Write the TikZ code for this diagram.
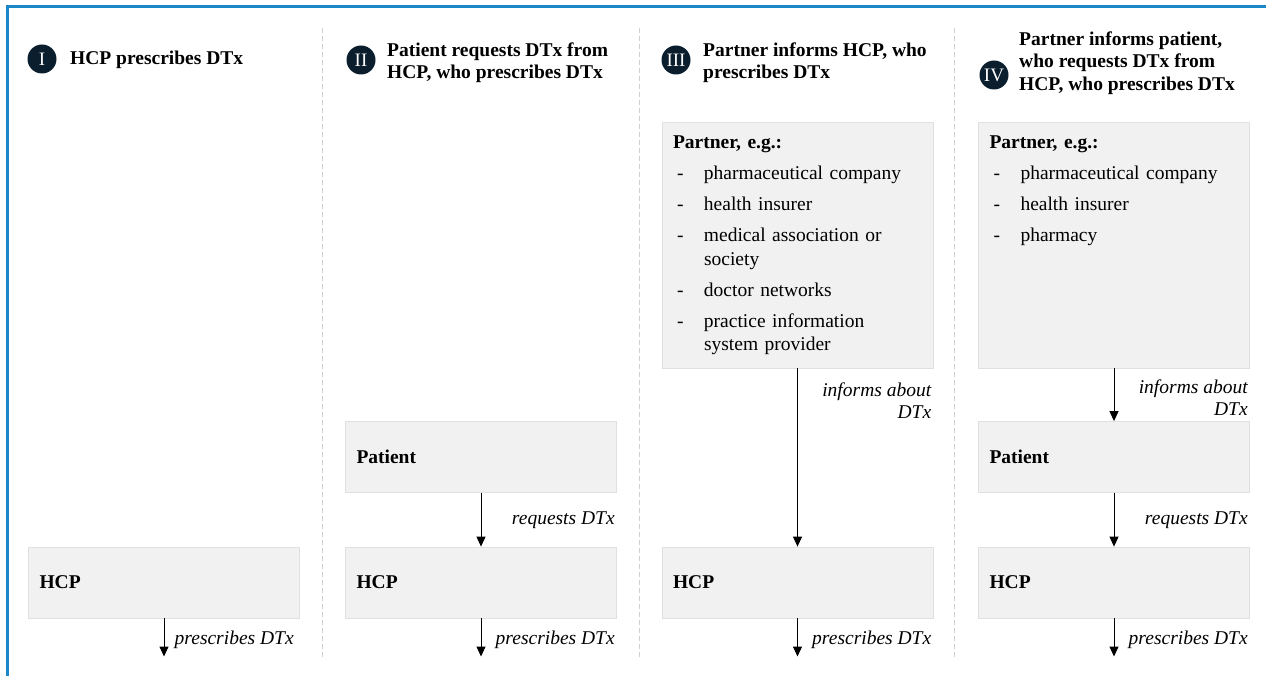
\documentclass[tikz,border=0pt]{standalone}
\usepackage{fontspec}
\setmainfont{Liberation Serif}
\usetikzlibrary{arrows.meta}
\definecolor{framec}{HTML}{1B87C9}
\definecolor{boxfill}{HTML}{F1F1F1}
\definecolor{boxline}{HTML}{E0E0E0}
\definecolor{numc}{HTML}{0B1E2D}
\definecolor{sepc}{HTML}{CFCFCF}
\frenchspacing
\newcommand\dashitem[1]{\par\vspace{7.5pt}\hangindent=31pt\hangafter=1\noindent\makebox[31pt][l]{\hspace{4pt}-}#1}
\newcommand\partnerlist[1]{\begin{minipage}[t][218pt][t]{240pt}\raggedright\setlength\parskip{0pt}\noindent\textbf{Partner, e.g.:}#1\end{minipage}}
\begin{document}
\begin{tikzpicture}[x=1pt,y=-1pt,
  font=\fontsize{19.5}{23.5}\selectfont,
  box/.style={draw=boxline,fill=boxfill,line width=0.8pt,text width=249pt,inner xsep=11pt,inner ysep=11pt,minimum height=71pt,align=left},
  partner/.style={box,inner ysep=14pt,minimum height=246pt},
  num/.style={circle,fill=numc,text=white,minimum size=29pt,inner sep=0pt,font=\fontsize{19}{19}\selectfont},
  head/.style={anchor=west,align=left,inner sep=0pt,font=\fontsize{19.5}{22.5}\selectfont\bfseries},
  lbl/.style={inner sep=0pt,align=right,font=\fontsize{19.5}{22.5}\selectfont\itshape},
  flow/.style={-{Triangle[length=10pt,width=9pt]},line width=1pt},
  sep/.style={draw=sepc,dash pattern=on 5pt off 3pt,line width=0.8pt}]
\useasboundingbox (0,0) rectangle (1266,676);
\draw[framec,line width=3pt] (1266,7) -- (7,7) -- (7,676);

\draw[sep] (322.5,28) -- (322.5,657);
\draw[sep] (639,28) -- (639,657);
\draw[sep] (954.5,28) -- (954.5,657);

\node[num] (n1) at (42,59) {I};
\node[head] (h1) at (70,59.5) {HCP prescribes DTx};
\node[num] (n2) at (361,60) {II};
\node[head] (h2) at (387,62.5) {Patient requests DTx from\\HCP, who prescribes DTx};
\node[num] (n3) at (676,60) {III};
\node[head] (h3) at (703,62.5) {Partner informs HCP, who\\prescribes DTx};
\node[num] (n4) at (994,75) {IV};
\node[head] (h4) at (1019,63) {Partner informs patient,\\who requests DTx from\\HCP, who prescribes DTx};

\node[box] (hcp1) at (164,582.5) {\textbf{HCP}};

\node[box] (pat2) at (481,457) {\textbf{Patient}};
\node[box] (hcp2) [below of=pat2,node distance=125.5pt] {\textbf{HCP}};

\node[partner] (par3) at (797.5,245) {\partnerlist{%
\dashitem{pharmaceutical company}
\dashitem{health insurer}
\dashitem{medical association or society}
\dashitem{doctor networks}
\dashitem{practice information system provider}}};
\node[box] (hcp3) [below of=par3,node distance=337.5pt] {\textbf{HCP}};

\node[partner] (par4) at (1114,245) {\partnerlist{%
\dashitem{pharmaceutical company}
\dashitem{health insurer}
\dashitem{pharmacy}}};
\node[box] (pat4) [below of=par4,node distance=212pt] {\textbf{Patient}};
\node[box] (hcp4) [below of=pat4,node distance=125.5pt] {\textbf{HCP}};

\node[coordinate] (e1) [below of=hcp1,node distance=74pt] {};
\node[coordinate] (e2) [below of=hcp2,node distance=74pt] {};
\node[coordinate] (e3) [below of=hcp3,node distance=74pt] {};
\node[coordinate] (e4) [below of=hcp4,node distance=74pt] {};

\draw[flow] (hcp1) -- (e1);
\draw[flow] (pat2) -- (hcp2);
\draw[flow] (hcp2) -- (e2);
\draw[flow] (par3) -- (hcp3);
\draw[flow] (hcp3) -- (e3);
\draw[flow] (par4) -- (pat4);
\draw[flow] (pat4) -- (hcp4);
\draw[flow] (hcp4) -- (e4);

\node[lbl,anchor=base east] (l1) at ([xshift=-6pt,yshift=-26pt]hcp1.south east) {prescribes DTx};
\node[lbl,anchor=base east] (r2) at ([xshift=-2pt,yshift=-32pt]pat2.south east) {requests DTx};
\node[lbl,anchor=base east] (l2) at ([xshift=-2pt,yshift=-26pt]hcp2.south east) {prescribes DTx};
\node[lbl,anchor=base east] (i3) at ([xshift=-2pt,yshift=-50.5pt]par3.south east) {informs about\\DTx};
\node[lbl,anchor=base east] (l3) at ([xshift=-2pt,yshift=-26pt]hcp3.south east) {prescribes DTx};
\node[lbl,anchor=base east] (i4) at ([xshift=-2pt,yshift=-47.5pt]par4.south east) {informs about\\DTx};
\node[lbl,anchor=base east] (r4) at ([xshift=-2pt,yshift=-32pt]pat4.south east) {requests DTx};
\node[lbl,anchor=base east] (l4) at ([xshift=-2pt,yshift=-26pt]hcp4.south east) {prescribes DTx};
\end{tikzpicture}
\end{document}
